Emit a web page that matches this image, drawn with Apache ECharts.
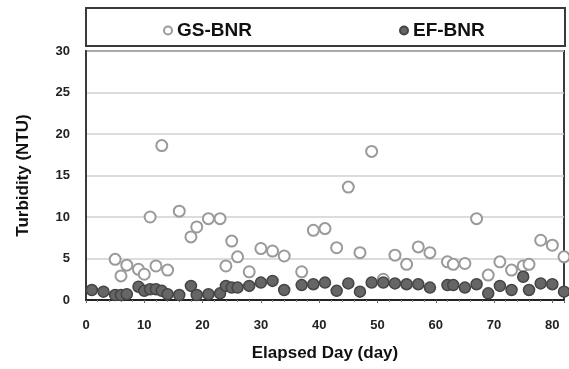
<!DOCTYPE html>
<html>
<head>
<meta charset="utf-8">
<script src="https://cdn.jsdelivr.net/npm/echarts@6/dist/echarts.min.js"></script>
<style>
  html, body { margin: 0; padding: 0; background: #fff; }
  #chart { width: 569px; height: 369px; }
</style>
</head>
<body>
<div id="chart"></div>
<script>
// Turbidity readings over elapsed days for the two reactors
const gsDays = [5, 6, 7, 9, 10, 11, 12, 13, 14, 16, 18, 19, 21, 23, 24, 25, 26, 28, 30, 32, 34, 37, 39, 41, 43, 45, 47, 49, 51, 53, 55, 57, 59, 62, 63, 65, 67, 69, 71, 73, 75, 76, 78, 80, 82];
const gsValues = [4.9, 2.9, 4.2, 3.7, 3.1, 10.0, 4.1, 18.6, 3.6, 10.7, 7.6, 8.8, 9.8, 9.8, 4.1, 7.1, 5.2, 3.4, 6.2, 5.9, 5.3, 3.4, 8.4, 8.6, 6.3, 13.6, 5.7, 17.9, 2.5, 5.4, 4.3, 6.4, 5.7, 4.6, 4.3, 4.4, 9.8, 3.0, 4.6, 3.6, 4.1, 4.3, 7.2, 6.6, 5.2];

const efDays = [1, 3, 5, 6, 7, 9, 10, 11, 12, 13, 14, 16, 18, 19, 21, 23, 24, 25, 26, 28, 30, 32, 34, 37, 39, 41, 43, 45, 47, 49, 51, 53, 55, 57, 59, 62, 63, 65, 67, 69, 71, 73, 75, 76, 78, 80, 82];
const efValues = [1.2, 1.0, 0.6, 0.6, 0.7, 1.6, 1.1, 1.3, 1.3, 1.1, 0.7, 0.6, 1.7, 0.6, 0.7, 0.8, 1.7, 1.5, 1.5, 1.7, 2.1, 2.3, 1.2, 1.8, 1.9, 2.1, 1.1, 2.0, 1.0, 2.1, 2.1, 2.0, 1.9, 1.9, 1.5, 1.8, 1.8, 1.5, 1.9, 0.8, 1.7, 1.2, 2.8, 1.2, 2.0, 1.9, 1.0];

const seriesNames = ['GS-BNR', 'EF-BNR'];
const xTitle = 'Elapsed Day (day)';
const yTitle = 'Turbidity (NTU)';

const pair = (xs, ys) => xs.map((d, i) => [d, ys[i]]);

const FONT = '"Liberation Sans", Arial, sans-serif';
const chart = echarts.init(document.getElementById('chart'), null, { renderer: 'canvas' });

chart.setOption({
  animation: false,
  backgroundColor: '#fff',
  textStyle: { fontFamily: FONT },
  grid: { left: 86, right: 5, top: 51, bottom: 69, show: true, borderColor: '#3a3a3a', borderWidth: 2, backgroundColor: 'transparent' },
  graphic: [{
    type: 'rect',
    shape: { x: 86, y: 8, width: 479, height: 38 },
    style: { fill: '#fff', stroke: '#3a3a3a', lineWidth: 2 },
    z: -1
  }],
  legend: [
    {
      data: [{ name: seriesNames[0], icon: 'circle' }],
      left: 158, top: 16, itemWidth: 8, itemHeight: 8, itemGap: 6,
      textStyle: { fontFamily: FONT, fontWeight: 'bold', fontSize: 19, color: '#111' }
    },
    {
      data: [{ name: seriesNames[1], icon: 'circle' }],
      left: 394, top: 16, itemWidth: 8, itemHeight: 8, itemGap: 6,
      textStyle: { fontFamily: FONT, fontWeight: 'bold', fontSize: 19, color: '#111' }
    }
  ],
  xAxis: {
    type: 'value', min: 0, max: 82, interval: 10,
    name: xTitle, nameLocation: 'middle', nameGap: 45,
    nameTextStyle: { fontFamily: FONT, fontWeight: 'bold', fontSize: 17, color: '#111' },
    axisLine: { show: true, lineStyle: { color: '#222', width: 2 } },
    axisTick: { show: true, inside: false, length: 3, lineStyle: { color: '#666' } },
    minorTick: { show: true, splitNumber: 5, length: 2, lineStyle: { color: '#888' } },
    axisLabel: { fontFamily: FONT, fontWeight: 'bold', fontSize: 13, color: '#222', margin: 19,
      formatter: v => (v > 80 ? '' : v) },
    splitLine: { show: false }
  },
  yAxis: {
    type: 'value', min: 0, max: 30, interval: 5,
    name: yTitle, nameLocation: 'middle', nameGap: 54,
    nameTextStyle: { fontFamily: FONT, fontWeight: 'bold', fontSize: 17, color: '#111' },
    axisLine: { show: true, lineStyle: { color: '#3a3a3a', width: 2 } },
    axisTick: { show: false },
    axisLabel: { fontFamily: FONT, fontWeight: 'bold', fontSize: 13, color: '#222', margin: 16 },
    splitLine: { show: true, lineStyle: { color: '#d0d0d0', width: 1.5 } }
  },
  series: [
    {
      name: seriesNames[0], type: 'scatter', symbol: 'circle', symbolSize: 11,
      data: pair(gsDays, gsValues),
      itemStyle: { color: '#fff', borderColor: '#9a9a9a', borderWidth: 2, opacity: 1 },
      z: 2
    },
    {
      name: seriesNames[1], type: 'scatter', symbol: 'circle', symbolSize: 11,
      data: pair(efDays, efValues),
      itemStyle: { color: '#666', borderColor: '#444', borderWidth: 1.5, opacity: 1 },
      z: 3
    }
  ]
});
</script>
</body>
</html>
